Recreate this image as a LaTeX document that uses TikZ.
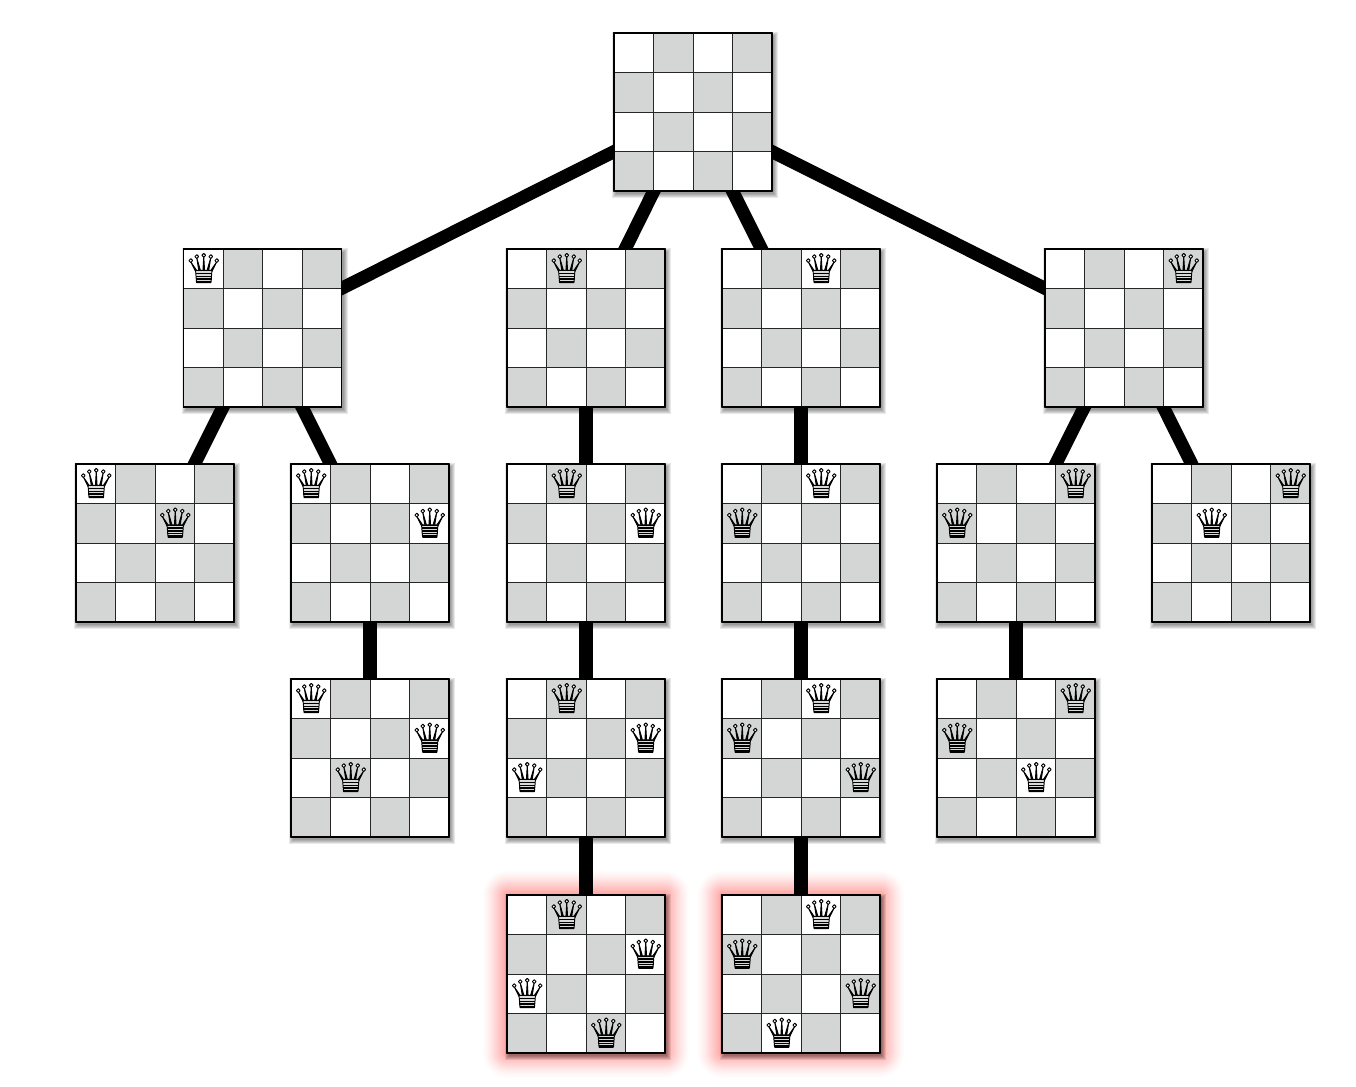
\documentclass[tikz,border=0pt]{standalone}
\usetikzlibrary{backgrounds}

\definecolor{cellgray}{RGB}{212,214,213}
\definecolor{glowred}{RGB}{255,70,60}

\tikzset{
    board/.style={draw=black,line width=1.3pt,minimum size=118.5pt,inner sep=0pt,fill=white},
    link/.style={line width=9.8pt,black},
    cellline/.style={line width=0.6pt,black!85},
    queen/.pic={
        % five points of the crown
        \foreach \qx/\qy in {-13/-7,-7/-11,0/-12.3,7/-11,13/-7}{
            \draw[line width=0.7pt,fill=black] (\qx*0.55-0.9,3) -- (\qx,\qy) -- (\qx*0.55+0.9,3) -- cycle;
            \draw[line width=0.7pt,fill=white] (\qx,\qy-1.2) circle[radius=1.9];
        }
        % base of the queen
        \draw[line width=0.7pt,fill=black!15] (-8.2,1.5) -- (8.2,1.5) -- (7.2,14) -- (-7.2,14) -- cycle;
        \foreach \qy in {2,4.8,7.6,10.4}
            \draw[line width=1.05pt] (-8,\qy) -- (8,\qy);
        \draw[line width=1.7pt] (-7.2,13.2) -- (7.2,13.2);
    }
}

% one board: name, centre, queens as column/row
\newcommand{\board}[4]{
    \foreach \s in {4,3,2,1,0}
        \fill[black,opacity=0.09] (#2-79+2-\s,#3-79+2.5-\s) rectangle (#2+79+2+\s,#3+79+2.5+\s);
    \node[board] (#1) at (#2,#3) {};
    \foreach \col/\row in {1/0,3/0,0/1,2/1,1/2,3/2,0/3,2/3}
        \fill[cellgray] (#2-79+39.5*\col,#3-79+39.5*\row) rectangle +(39.5,39.5);
    \foreach \k in {1,2,3}{
        \draw[cellline] (#2-79+39.5*\k,#3-79) -- +(0,158);
        \draw[cellline] (#2-79,#3-79+39.5*\k) -- +(158,0);
    }
    \draw[line width=1.3pt] (#2-79,#3-79) rectangle +(158,158);
    \foreach \col/\row in {#4}
        \pic at (#2-79+20.25+39.5*\col,#3-79+19.75+39.5*\row) {queen};
}

\begin{document}
\begin{tikzpicture}[x=0.75pt,y=-0.75pt,line join=round]
\useasboundingbox (0,0) rectangle (1356,1086);

% first level
\board{root}{693}{112}{}

% second level
\board{qa}{262.5}{328}{0/0}
\board{qb}{586}{328}{1/0}
\board{qc}{801}{328}{2/0}
\board{qd}{1124}{328}{3/0}

% third level
\board{qaa}{155}{543}{0/0,2/1}
\board{qab}{370}{543}{0/0,3/1}
\board{qba}{586}{543}{1/0,3/1}
\board{qca}{801}{543}{2/0,0/1}
\board{qda}{1016}{543}{3/0,0/1}
\board{qdb}{1231}{543}{3/0,1/1}

% fourth level
\board{qaba}{370}{758}{0/0,3/1,1/2}
\board{qbaa}{586}{758}{1/0,3/1,0/2}
\board{qcaa}{801}{758}{2/0,0/1,3/2}
\board{qdaa}{1016}{758}{3/0,0/1,2/2}

% solutions
\board{solb}{586}{974}{1/0,3/1,0/2,2/3}
\board{solc}{801}{974}{2/0,0/1,3/2,1/3}

% glow and links lie behind the boards
\begin{scope}[on background layer]
\fill[white] (0,0) rectangle (1356,1086);
\foreach \gx in {586,801}
    \foreach \g in {25,24,...,1}
        \fill[glowred,opacity={0.004+0.0014*(26-\g)},rounded corners=\g*0.75pt]
            (\gx-79-\g,974-79-\g) rectangle (\gx+79+\g,974+79+\g);
\foreach \from/\to in {root/qa,root/qb,root/qc,root/qd,
        qa/qaa,qa/qab,qb/qba,qc/qca,qd/qda,qd/qdb,
        qab/qaba,qba/qbaa,qca/qcaa,qda/qdaa,
        qbaa/solb,qcaa/solc}
    \draw[link] (\from.center) -- (\to.center);
\end{scope}

\end{tikzpicture}
\end{document}
